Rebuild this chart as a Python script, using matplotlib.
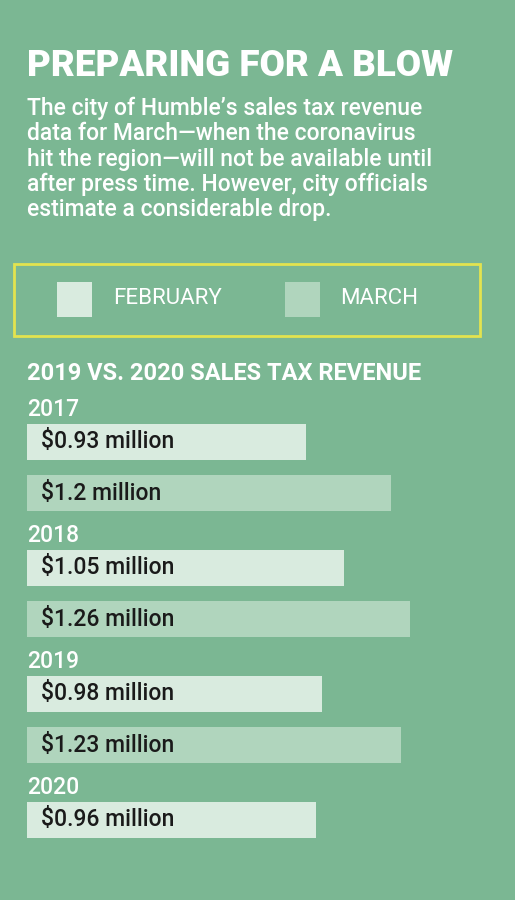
import matplotlib.pyplot as plt
from matplotlib.patches import Rectangle
import matplotlib.transforms as mtransforms

years = ["2017", "2018", "2019", "2020"]
feb = [0.93, 1.05, 0.98, 0.96]
mar = [1.2, 1.26, 1.23, None]
feb_labels = ["$0.93 million", "$1.05 million", "$0.98 million", "$0.96 million"]
mar_labels = ["$1.2 million", "$1.26 million", "$1.23 million", None]

BG = "#7bb793"
FEB_C = "#d9ebdf"
MAR_C = "#b0d5bd"
FONT = ["Roboto", "DejaVu Sans"]

fig = plt.figure(figsize=(5.15, 9), dpi=100)
fig.patch.set_facecolor(BG)

# overlay in pixel coords for text
ov = fig.add_axes([0, 0, 1, 1])
ov.set_xlim(0, 515)
ov.set_ylim(900, 0)
ov.axis("off")

ov.text(27, 66, "PREPARING FOR A BLOW", color="white", fontsize=26.5,
        fontweight="black", family=FONT, va="center")
body = ("The city of Humble\u2019s sales tax revenue\n"
        "data for March\u2014when the coronavirus\n"
        "hit the region\u2014will not be available until\n"
        "after press time. However, city officials\n"
        "estimate a considerable drop.")
ov.text(27, 97, body, color="white", fontsize=16.5, family=FONT, va="top",
        fontweight="medium", linespacing=1.12)

ov.add_patch(Rectangle((14, 264), 466, 72, fill=False, edgecolor="#e3e34f", lw=2))
ov.add_patch(Rectangle((57, 282), 35, 35, facecolor=FEB_C, edgecolor="none"))
ov.text(113, 299, "FEBRUARY", color="white", fontsize=16, family=FONT, va="center")
ov.add_patch(Rectangle((285, 282), 35, 35, facecolor=MAR_C, edgecolor="none"))
ov.text(340, 299, "MARCH", color="white", fontsize=16, family=FONT, va="center")

ov.text(27, 373, "2019 VS. 2020 SALES TAX REVENUE", color="white", fontsize=17,
        fontweight="bold", family=FONT, va="center")

# bar axes: x in millions, y in pixel rows
ax = fig.add_axes([27 / 515, 0, 1 - 27 / 515, 1])
ax.patch.set_alpha(0)
ax.set_xlim(0.044, 0.044 + 488 / 315)
ax.set_ylim(900, 0)
ax.axis("off")

year_y = [409, 535, 661, 787]
tr = mtransforms.blended_transform_factory(ov.transData, ax.transData)
for i, yr in enumerate(years):
    y0 = year_y[i]
    ov.text(27, y0, yr, color="white", fontsize=16.5, family=FONT, va="center",
            fontweight="medium")
    ax.barh(y0 + 33, feb[i], height=36, color=FEB_C, left=0)
    ax.text(41, y0 + 33, feb_labels[i], transform=tr, color="#1a1a1a",
            fontsize=16.5, family=FONT, va="center", fontweight="medium")
    if mar[i] is not None:
        ax.barh(y0 + 84, mar[i], height=36, color=MAR_C, left=0)
        ax.text(41, y0 + 84, mar_labels[i], transform=tr, color="#1a1a1a",
                fontsize=16.5, family=FONT, va="center", fontweight="medium")

fig.savefig("out.png", dpi=100, facecolor=BG)
